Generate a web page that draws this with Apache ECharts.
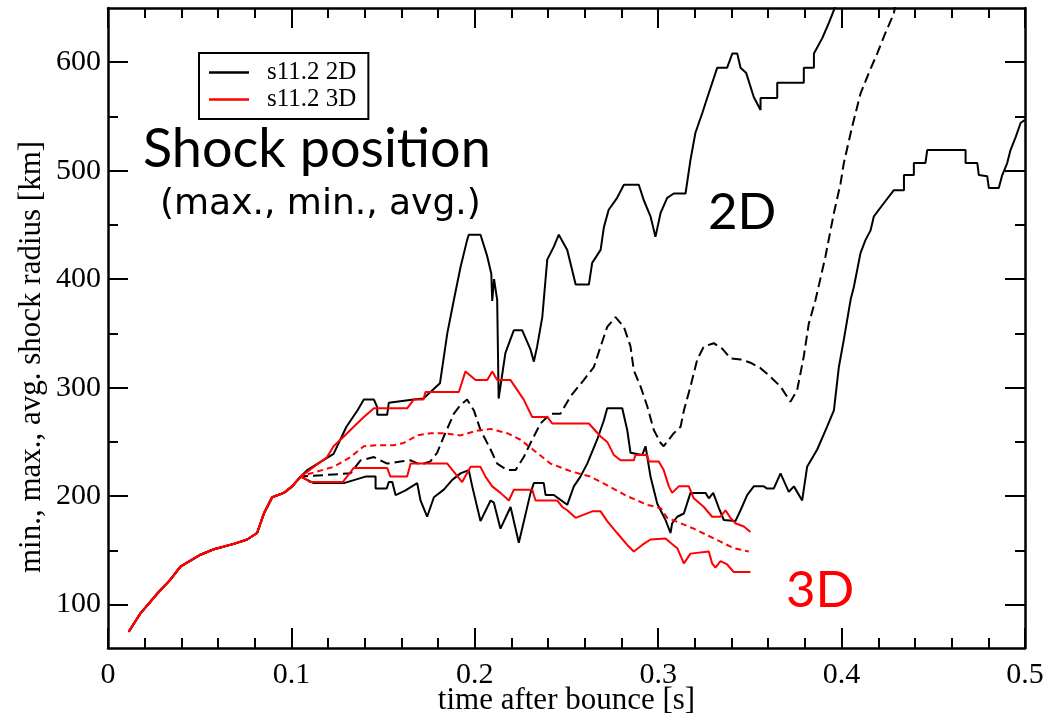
<!DOCTYPE html>
<html>
<head>
<meta charset="utf-8">
<script src="https://cdn.jsdelivr.net/npm/echarts@6/dist/echarts.min.js"></script>
<style>
  html, body { margin: 0; padding: 0; background: #fff; }
  #chart { width: 1048px; height: 722px; }
</style>
</head>
<body>
<div id="chart"></div>
<script>
// ---- data: [time after bounce (s), shock radius (km)] ----
const early = [[0.0113,75],[0.0177,92],[0.0268,110],[0.034,123],[0.0395,135],[0.0504,146],[0.0577,151],[0.0686,156],[0.0759,160],[0.0813,166],[0.085,184],[0.0895,199],[0.0959,203],[0.1004,209],[0.105,218]];

const max2D = [[0.1086,224],[0.123,239],[0.130,264],[0.136,279],[0.1395,289],[0.145,289],[0.1468,282],[0.1468,275],[0.1522,275],[0.1531,286],[0.1667,289],[0.172,290],[0.181,304],[0.185,350],[0.1886,381],[0.1922,411],[0.1958,436],[0.1967,441],[0.2031,441],[0.2068,421],[0.209,405],[0.2095,380],[0.2105,400],[0.2122,381],[0.213,290],[0.214,290],[0.2167,332],[0.2213,353],[0.2258,353],[0.2304,335],[0.2322,324],[0.234,338],[0.2368,365],[0.2395,418],[0.2431,430],[0.2458,441],[0.2504,427],[0.255,395],[0.2622,395],[0.264,415],[0.2686,427],[0.2704,448],[0.273,464],[0.2776,475],[0.2813,487],[0.2894,487],[0.2921,473],[0.2958,458],[0.2985,439],[0.3013,461],[0.3049,475],[0.3085,479],[0.3149,479],[0.3176,510],[0.3203,535],[0.324,553],[0.3267,567],[0.3322,595],[0.3376,595],[0.3404,608],[0.3431,608],[0.3449,595],[0.348,590],[0.3521,568],[0.3558,556],[0.3558,567],[0.3649,567],[0.3649,581],[0.3794,581],[0.3794,595],[0.3849,595],[0.3849,608],[0.3894,622],[0.393,636],[0.3958,648],[0.40,668]];

const min2D = [[0.1086,215],[0.1122,212],[0.1286,212],[0.1295,213],[0.1404,218],[0.1459,218],[0.1459,207],[0.152,207],[0.1531,213],[0.155,213],[0.1568,201],[0.162,205],[0.1686,212],[0.1704,196],[0.174,181],[0.1777,199],[0.1831,206],[0.1877,215],[0.1922,221],[0.1967,224],[0.1986,209],[0.2031,177],[0.2086,196],[0.2104,194],[0.214,170],[0.2195,190],[0.224,157],[0.2304,203],[0.2322,212],[0.2376,212],[0.2386,201],[0.2431,201],[0.2504,192],[0.254,209],[0.2576,218],[0.2613,230],[0.2667,252],[0.2704,270],[0.2722,281],[0.2804,281],[0.2831,261],[0.2849,240],[0.2913,238],[0.2931,246],[0.2958,218],[0.2995,193],[0.304,178],[0.3067,166],[0.3076,175],[0.3104,181],[0.314,184],[0.3176,203],[0.3258,203],[0.3276,198],[0.330,203],[0.3331,189],[0.3358,178],[0.3421,177],[0.3449,187],[0.3485,201],[0.3521,209],[0.3576,209],[0.3594,207],[0.363,207],[0.3667,221],[0.3712,204],[0.374,209],[0.3785,196],[0.3812,227],[0.3867,243],[0.3921,264],[0.3958,279],[0.3985,319],[0.4012,344],[0.4049,381],[0.4067,393],[0.4103,424],[0.413,436],[0.4158,445],[0.4176,458],[0.423,470],[0.4285,482],[0.434,482],[0.434,496],[0.4394,496],[0.4394,507],[0.4457,507],[0.4467,519],[0.4676,519],[0.4676,507],[0.474,507],[0.4748,496],[0.4794,495],[0.4803,484],[0.4857,484],[0.4876,496],[0.4903,507],[0.4921,519],[0.4949,531],[0.4976,544],[0.5,547]];

const avg2D = [[0.123,220],[0.1322,221],[0.1377,233],[0.145,236],[0.1522,230],[0.1595,232],[0.165,233],[0.1704,229],[0.1758,232],[0.1795,240],[0.1831,255],[0.1886,276],[0.1922,284],[0.1958,289],[0.1995,279],[0.2031,261],[0.2086,243],[0.2122,230],[0.2177,224],[0.2222,224],[0.2267,236],[0.2304,249],[0.2358,267],[0.2413,276],[0.2467,276],[0.2522,292],[0.2594,307],[0.2649,319],[0.2686,338],[0.2722,356],[0.2767,365],[0.2813,356],[0.2849,338],[0.2867,316],[0.2904,301],[0.294,283],[0.2976,261],[0.3013,249],[0.303,246],[0.3085,258],[0.3122,264],[0.314,279],[0.3176,301],[0.3213,326],[0.3249,338],[0.3303,341],[0.3349,336],[0.3394,327],[0.3449,326],[0.3503,323],[0.3558,318],[0.3612,310],[0.3667,301],[0.3721,287],[0.3758,298],[0.3794,329],[0.3821,359],[0.3858,381],[0.3912,421],[0.3958,461],[0.3994,488],[0.4012,507],[0.4058,541],[0.4103,571],[0.4148,590],[0.4194,608],[0.4239,627],[0.4285,645],[0.43,660]];

const max3D = [[0.1122,227],[0.1195,236],[0.123,246],[0.1286,255],[0.1358,267],[0.1395,273],[0.145,281],[0.1631,281],[0.1667,289],[0.172,289],[0.1731,296],[0.1913,296],[0.1949,315],[0.2004,307],[0.2068,307],[0.2095,315],[0.2122,307],[0.2195,307],[0.2231,298],[0.2267,289],[0.2313,273],[0.2395,273],[0.2422,267],[0.2622,267],[0.2686,255],[0.2722,250],[0.2758,238],[0.2795,233],[0.2867,233],[0.2876,238],[0.294,238],[0.2949,232],[0.3003,232],[0.303,224],[0.3058,209],[0.3076,203],[0.3112,209],[0.3167,209],[0.3194,198],[0.3249,190],[0.3294,181],[0.334,181],[0.3367,187],[0.3394,180],[0.3421,175],[0.3467,172],[0.3503,167]];

const min3D = [[0.1086,215],[0.11,213],[0.128,213],[0.134,226],[0.1522,226],[0.154,218],[0.1631,218],[0.165,230],[0.185,230],[0.1931,213],[0.1977,227],[0.2031,227],[0.2058,218],[0.2095,209],[0.214,203],[0.2186,196],[0.2213,206],[0.2313,206],[0.2331,196],[0.2449,196],[0.2477,190],[0.2504,187],[0.255,180],[0.264,186],[0.2686,186],[0.2722,177],[0.2776,166],[0.2831,155],[0.2867,149],[0.2913,155],[0.2958,160],[0.304,161],[0.3067,157],[0.3104,152],[0.314,138],[0.3176,147],[0.3276,149],[0.3294,138],[0.3312,134],[0.334,140],[0.3376,137],[0.3412,130],[0.3503,130]];

const avg3D = [[0.1086,220],[0.123,227],[0.1322,236],[0.1395,246],[0.1468,247],[0.1558,247],[0.1613,249],[0.1686,256],[0.1758,258],[0.1831,258],[0.1922,256],[0.2004,260],[0.2086,262],[0.2177,258],[0.2249,252],[0.2331,241],[0.2413,230],[0.2522,223],[0.2631,218],[0.2722,210],[0.2831,200],[0.294,192],[0.3013,189],[0.3049,180],[0.3122,175],[0.3194,170],[0.3267,164],[0.334,158],[0.3412,152],[0.3494,149]];

const yMajorTicks = [100, 200, 300, 400, 500, 600];
const yMinorTicks = [150, 250, 350, 450, 550];
const legendNames = ['s11.2 2D', 's11.2 3D'];

const chart = echarts.init(document.getElementById('chart'), null, { renderer: 'canvas' });
const SERIF = 'Liberation Serif';
const SANS = 'Lato';
const AX = { lineStyle: { color: '#000', width: 2.5 } };
const TICK = { color: '#000', width: 2 };

function mkSeries(name, data, color, type) {
  return {
    type: 'line', name: name, data: data, color: color,
    showSymbol: false, symbol: 'none', clip: true, animation: false,
    lineStyle: { color: color, width: 2, type: type || 'solid' },
    itemStyle: { color: color }
  };
}

const yBase = { type: 'value', min: 60, max: 650, splitLine: { show: false } };
const xBase = { type: 'value', min: 0, max: 0.5, interval: 0.1, splitLine: { show: false },
  axisLine: AX,
  axisTick: { inside: true, length: 20, lineStyle: TICK },
  minorTick: { show: true, splitNumber: 5, length: 10, lineStyle: TICK } };

chart.setOption({
  animation: false,
  backgroundColor: '#fff',
  grid: { left: 108, right: 23, top: 8, bottom: 74, containLabel: false, outerBoundsMode: 'none' },
  xAxis: [
    Object.assign({}, xBase, {
      position: 'bottom',
      axisLabel: { color: '#000', fontFamily: SERIF, fontSize: 30, margin: 12,
        formatter: v => (v === 0 ? '0' : v.toFixed(1)) },
      name: 'time after bounce [s]', nameLocation: 'middle', nameGap: 37, nameMoveOverlap: false,
      nameTextStyle: { color: '#000', fontFamily: SERIF, fontSize: 31 }
    }),
    Object.assign({}, xBase, { position: 'top', axisLabel: { show: false } })
  ],
  yAxis: [
    Object.assign({}, yBase, {
      position: 'left', axisLine: Object.assign({ show: true }, AX),
      axisTick: { show: true, inside: true, length: 20, customValues: yMajorTicks, lineStyle: TICK },
      axisLabel: { color: '#000', fontFamily: SERIF, fontSize: 30, margin: 7, customValues: yMajorTicks }
    }),
    Object.assign({}, yBase, {
      position: 'left', axisLine: { show: false },
      axisTick: { show: true, inside: true, length: 10, customValues: yMinorTicks, lineStyle: TICK },
      axisLabel: { show: false }
    }),
    Object.assign({}, yBase, {
      position: 'right', axisLine: Object.assign({ show: true }, AX),
      axisTick: { show: true, inside: true, length: 20, customValues: yMajorTicks, lineStyle: TICK },
      axisLabel: { show: false }
    }),
    Object.assign({}, yBase, {
      position: 'right', axisLine: { show: false },
      axisTick: { show: true, inside: true, length: 10, customValues: yMinorTicks, lineStyle: TICK },
      axisLabel: { show: false }
    })
  ],
  legend: {
    data: legendNames.map(n => ({ name: n })),
    orient: 'vertical', left: 199, top: 53,
    icon: 'rect', itemWidth: 40, itemHeight: 2.5, itemGap: 2,
    padding: [7, 12, 7, 10],
    borderColor: '#000', borderWidth: 2, backgroundColor: '#fff',
    selectedMode: false,
    textStyle: { color: '#000', fontFamily: SERIF, fontSize: 25, lineHeight: 25, padding: [0, 0, 0, 13] }
  },
  series: [
    mkSeries(legendNames[0], early.concat(max2D), '#000'),
    mkSeries(legendNames[0], early.concat(min2D), '#000'),
    mkSeries(legendNames[0], early.concat(avg2D), '#000', [10, 5]),
    mkSeries(legendNames[1], early.concat(max3D), '#ff0000'),
    mkSeries(legendNames[1], early.concat(min3D), '#ff0000'),
    mkSeries(legendNames[1], early.concat(avg3D), '#ff0000', [6, 4])
  ],
  graphic: [
    { type: 'text', left: 143, top: 123, style: { text: 'Shock position', fill: '#000', font: '54px ' + SANS } },
    { type: 'text', left: 160, top: 187, style: { text: '(max., min., avg.)', fill: '#000', font: '36px "DejaVu Sans"' } },
    { type: 'text', left: 708, top: 187, style: { text: '2D', fill: '#000', font: '51px ' + SANS } },
    { type: 'text', left: 786, top: 565, style: { text: '3D', fill: '#ff0000', font: '51px ' + SANS } },
    { type: 'text', x: 32, y: 357, rotation: Math.PI / 2,
      style: { text: 'min., max., avg. shock radius [km]', fill: '#000', font: '31px ' + SERIF, textAlign: 'center', textVerticalAlign: 'middle' } }
  ]
});
</script>
</body>
</html>
